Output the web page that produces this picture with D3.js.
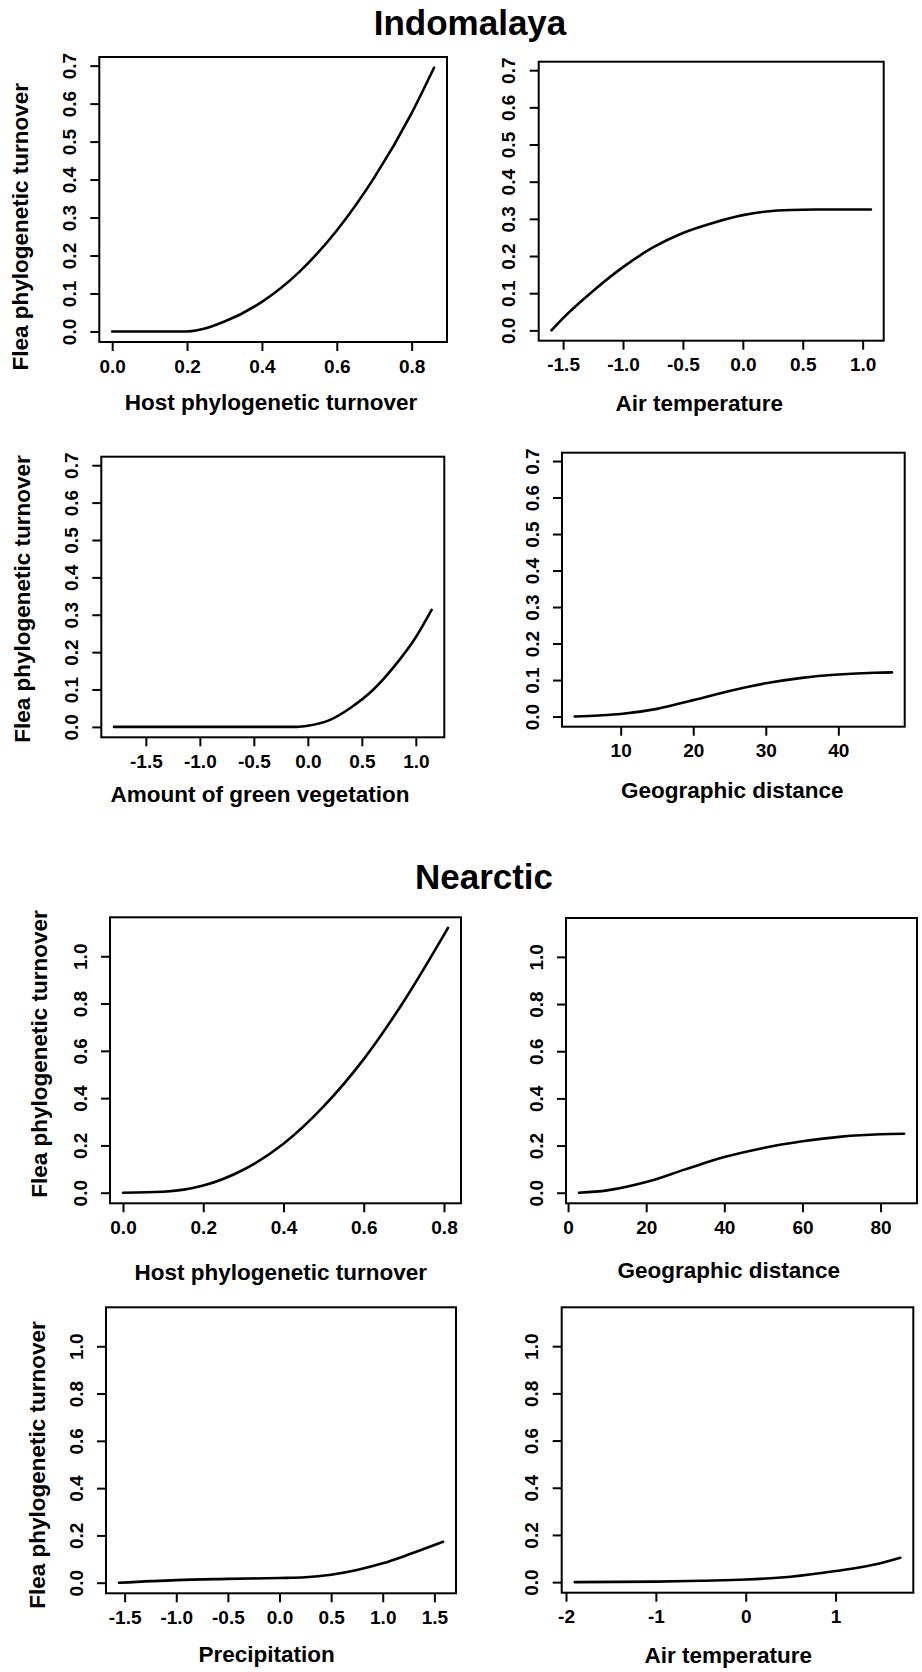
<!DOCTYPE html>
<html><head><meta charset="utf-8">
<script src="https://cdn.jsdelivr.net/npm/d3@7"></script>
<style>
body{margin:0;background:#fff;}
svg{display:block;background:#fff;}
text{font-family:"Liberation Sans",Arial,sans-serif;font-weight:bold;fill:#000;}
</style></head><body>
<svg id="c" width="922" height="1672"></svg>
<script>
// ---------- data ----------
const regionTitles = ["Indomalaya", "Nearctic"];
const yLabel = "Flea phylogenetic turnover";
const xLabels = ["Host phylogenetic turnover", "Air temperature", "Amount of green vegetation", "Geographic distance",
                 "Host phylogenetic turnover", "Geographic distance", "Precipitation", "Air temperature"];
const indoYTicks = [0, 0.1, 0.2, 0.3, 0.4, 0.5, 0.6, 0.7];
const nearYTicks = [0, 0.2, 0.4, 0.6, 0.8, 1.0];
const xTicks1 = [0, 0.2, 0.4, 0.6, 0.8];
const xTicks2 = [-1.5, -1.0, -0.5, 0, 0.5, 1.0];
const xTicks3 = [-1.5, -1.0, -0.5, 0, 0.5, 1.0];
const xTicks4 = [10, 20, 30, 40];
const xTicks5 = [0, 0.2, 0.4, 0.6, 0.8];
const xTicks6 = [0, 20, 40, 60, 80];
const xTicks7 = [-1.5, -1.0, -0.5, 0, 0.5, 1.0, 1.5];
const xTicks8 = [-2, -1, 0, 1];

// Indomalaya: host phylogenetic turnover
const x1 = [0, 0.1, 0.2, 0.3, 0.4, 0.5, 0.6, 0.7, 0.8, 0.86];
const y1 = [0, 0, 0, 0.026, 0.078, 0.157, 0.266, 0.405, 0.575, 0.695];
// Indomalaya: air temperature
const x2 = [-1.597, -1.5, -1.25, -1.0, -0.75, -0.5, -0.25, 0.0, 0.2, 0.4, 0.6, 0.8, 1.069];
const y2 = [0, 0.033, 0.106, 0.170, 0.223, 0.262, 0.289, 0.310, 0.320, 0.324, 0.325, 0.325, 0.325];
// Indomalaya: amount of green vegetation
const x3 = [-1.795, -1.0, -0.5, -0.1, 0.0, 0.2, 0.4, 0.6, 0.8, 1.0, 1.146];
const y3 = [0, 0, 0, 0, 0.003, 0.018, 0.052, 0.098, 0.162, 0.240, 0.313];
// Indomalaya: geographic distance
const x4 = [3.66, 7, 10, 15, 20, 25, 30, 35, 40, 45, 47.4];
const y4 = [0, 0.003, 0.007, 0.021, 0.045, 0.070, 0.091, 0.106, 0.115, 0.120, 0.121];
// Nearctic: host phylogenetic turnover
const x5 = [0, 0.1, 0.2, 0.3, 0.4, 0.5, 0.6, 0.7, 0.81];
const y5 = [0, 0.004, 0.030, 0.097, 0.207, 0.365, 0.565, 0.810, 1.120];
// Nearctic: geographic distance
const x6 = [2.8, 10, 20, 30, 40, 50, 60, 70, 80, 86];
const y6 = [0, 0.010, 0.045, 0.099, 0.151, 0.190, 0.218, 0.238, 0.248, 0.250];
// Nearctic: precipitation
const x7 = [-1.555, -1.0, -0.5, 0.0, 0.25, 0.5, 0.75, 1.0, 1.25, 1.584];
const y7 = [0, 0.011, 0.016, 0.020, 0.023, 0.034, 0.054, 0.082, 0.119, 0.173];
// Nearctic: air temperature
const x8 = [-1.903, -1.0, -0.5, 0, 0.5, 1.0, 1.5, 1.72];
const y8 = [0, 0.002, 0.006, 0.011, 0.023, 0.047, 0.080, 0.103];

// ---------- layout ----------
const boxes = [
  {L: 99.3, R: 447,   T: 57,     B: 342,    xt: [271, 410],     yt: [28.2, 226.7]},
  {L: 538.7, R: 883.7, T: 61.7,  B: 340.7,  xt: [699.3, 410.7]},
  {L: 101.3, R: 444.3, T: 456.7, B: 737.3,  xt: [260, 801.7],   yt: [29.8, 599]},
  {L: 562,  R: 904.7, T: 452.7,  B: 726.7,  xt: [732.3, 798.3]},
  {L: 110,  R: 461,   T: 917.3,  B: 1203.3, xt: [280.8, 1280],  yt: [46.5, 1054]},
  {L: 566,  R: 917,   T: 918,    B: 1203.3, xt: [728.7, 1278.3]},
  {L: 106,  R: 456,   T: 1307.3, B: 1593.3, xt: [266.7, 1661.7], yt: [44.8, 1465]},
  {L: 561.7, R: 913.3, T: 1307.3, B: 1592.7, xt: [728.2, 1663.3]}
];
const titlePos = [[470, 35], [484, 889]];

const loc = d3.formatLocale({decimal: ".", thousands: ",", grouping: [3], currency: ["", ""], minus: "-"});
const f1 = loc.format(".1f"), f0 = loc.format("d");

const xs = [x1, x2, x3, x4, x5, x6, x7, x8];
const ys = [y1, y2, y3, y4, y5, y6, y7, y8];
const xTicks = [xTicks1, xTicks2, xTicks3, xTicks4, xTicks5, xTicks6, xTicks7, xTicks8];
const xFmt = [f1, f1, f1, f0, f1, f0, f1, f0];

const svg = d3.select("#c");

regionTitles.forEach((t, i) => {
  svg.append("text").attr("x", titlePos[i][0]).attr("y", titlePos[i][1])
    .attr("text-anchor", "middle").style("font-size", "35px").text(t);
});

const regionMax = [d3.max([y1, y2, y3, y4].flat()), d3.max([y5, y6, y7, y8].flat())];

boxes.forEach((b, i) => {
  const r = i < 4 ? 0 : 1;
  const ymax = regionMax[r];
  const ext = d3.extent(xs[i]);
  const pad = (ext[1] - ext[0]) * 0.04;
  const x = d3.scaleLinear().domain([ext[0] - pad, ext[1] + pad]).range([b.L, b.R]);
  const y = d3.scaleLinear().domain([-0.04 * ymax, 1.04 * ymax]).range([b.B, b.T]);
  const g = svg.append("g");

  // y axis
  const ya = g.append("g").attr("transform", `translate(${b.L},0)`)
    .call(d3.axisLeft(y).tickValues(r === 0 ? indoYTicks : nearYTicks).tickFormat(f1).tickSize(9).tickPadding(0));
  ya.select(".domain").remove();
  ya.selectAll(".tick line").attr("stroke", "#000").attr("stroke-width", 2);
  ya.selectAll(".tick text").attr("x", 0).attr("y", -23.5).attr("dy", 0)
    .attr("transform", "rotate(-90)").attr("text-anchor", "middle")
    .style("font-size", "19px").attr("fill", "#000");

  // x axis
  const xa = g.append("g").attr("transform", `translate(0,${b.B})`)
    .call(d3.axisBottom(x).tickValues(xTicks[i]).tickFormat(xFmt[i]).tickSize(9).tickPadding(0));
  xa.select(".domain").remove();
  xa.selectAll(".tick line").attr("stroke", "#000").attr("stroke-width", 2);
  xa.selectAll(".tick text").attr("y", 30.5).attr("dy", 0)
    .style("font-size", "19px").attr("fill", "#000");

  // box
  g.append("rect").attr("x", b.L).attr("y", b.T).attr("width", b.R - b.L).attr("height", b.B - b.T)
    .attr("fill", "none").attr("stroke", "#000").attr("stroke-width", 2);

  // curve
  const pts = xs[i].map((v, k) => [v, ys[i][k]]);
  g.append("path").datum(pts)
    .attr("d", d3.line().x(d => x(d[0])).y(d => y(d[1])).curve(d3.curveMonotoneX))
    .attr("fill", "none").attr("stroke", "#000").attr("stroke-width", 2.6)
    .attr("stroke-linecap", "round").attr("stroke-linejoin", "round");

  // x title
  g.append("text").attr("x", b.xt[0]).attr("y", b.xt[1]).attr("text-anchor", "middle")
    .style("font-size", "22.5px").text(xLabels[i]);

  // y title
  if (b.yt) {
    g.append("text").attr("transform", `translate(${b.yt[0]},${b.yt[1]}) rotate(-90)`)
      .attr("text-anchor", "middle").style("font-size", "22.5px").text(yLabel);
  }
});
</script>
</body></html>
